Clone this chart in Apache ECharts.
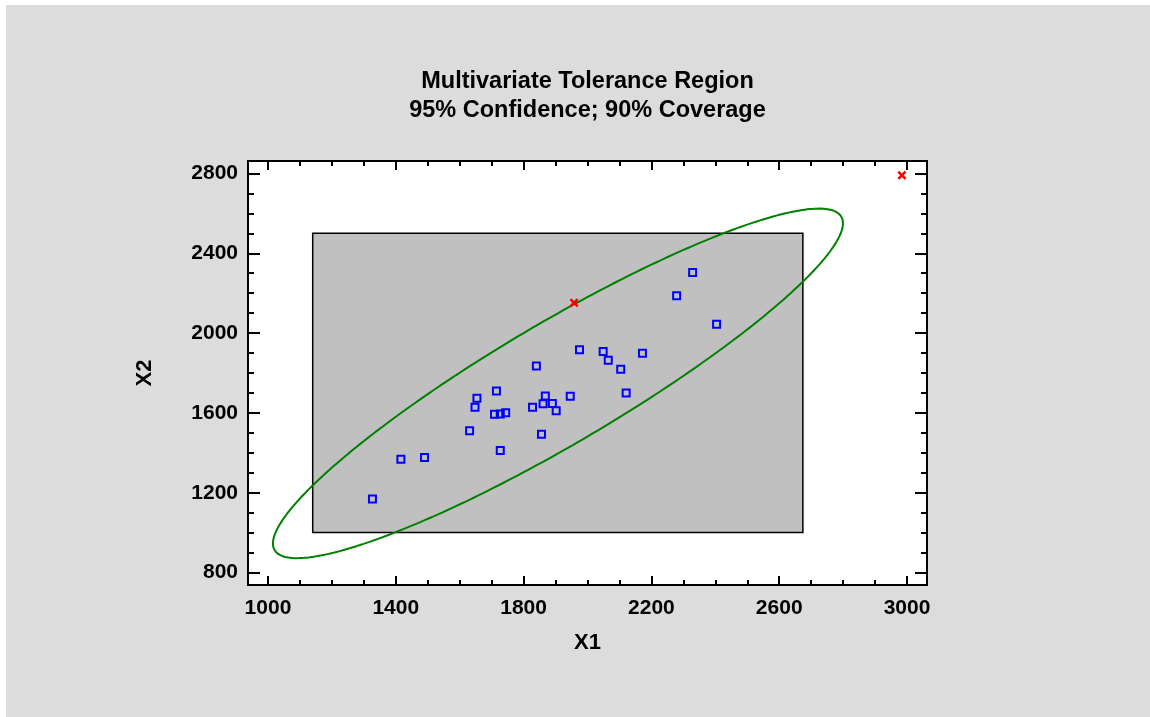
<!DOCTYPE html>
<html>
<head>
<meta charset="utf-8">
<script src="https://cdn.jsdelivr.net/npm/echarts@6/dist/echarts.min.js"></script>
<style>
  html, body { margin: 0; padding: 0; background: #ffffff; width: 1150px; height: 717px; overflow: hidden; }
  #chart { position: absolute; left: 6px; top: 5px; width: 1144px; height: 712px; background: #dcdcdc; }
</style>
</head>
<body>
<div id="chart"></div>
<script>
// Observations (X1, X2)
const x1Values = [1327, 1416, 1490, 1631, 1648, 1654, 1709, 1715, 1727, 1744, 1727, 1828, 1840, 1856,
                  1861, 1868, 1890, 1902, 1946, 1975, 2049, 2065, 2104, 2121, 2172, 2279, 2329, 2404];
const x2Values = [1168, 1368, 1376, 1511, 1628, 1673, 1593, 1710, 1595, 1601, 1411, 1628, 1835, 1493,
                  1646, 1685, 1647, 1611, 1683, 1917, 1908, 1864, 1819, 1700, 1899, 2187, 2304, 2044];

// Observations flagged outside the tolerance ellipse
const outlierX1 = [1958, 2984];
const outlierX2 = [2152, 2791];

// Tick labels
const xTickLabels = [1000, 1400, 1800, 2200, 2600, 3000];
const yTickLabels = [800, 1200, 1600, 2000, 2400, 2800];

// Rectangular (marginal) tolerance region
const boxX1 = [1140, 2674];
const boxX2 = [1000, 2500];

// Joint tolerance ellipse: centre, half extents along each axis, correlation
const ellipseCenter = [1907.5, 1748];
const ellipseHalfExtent = [892, 876];
const ellipseCorr = 0.916;

const FONT = '"Liberation Sans", Arial, sans-serif';

function minorTicks(from, to, step) {
  const out = [];
  for (let v = from; v <= to; v += step) out.push(v);
  return out;
}
const xMinor = minorTicks(1000, 3000, 100);
const yMinor = minorTicks(800, 2800, 100);

// Ellipse outline in data space
const ellipsePts = [];
const s = Math.sqrt(1 - ellipseCorr * ellipseCorr);
for (let i = 0; i <= 360; i++) {
  const t = i * Math.PI / 180;
  ellipsePts.push([
    ellipseCenter[0] + ellipseHalfExtent[0] * Math.cos(t),
    ellipseCenter[1] + ellipseHalfExtent[1] * (ellipseCorr * Math.cos(t) + s * Math.sin(t))
  ]);
}

const points = x1Values.map((v, i) => [v, x2Values[i]]);
const outliers = outlierX1.map((v, i) => [v, outlierX2[i]]);

const XMIN = 937.5, XMAX = 3062.5, YMIN = 737.5, YMAX = 2862.5;
const labelStyle = { fontSize: 21, fontWeight: 'bold', color: '#000', fontFamily: FONT, formatter: v => String(v) };
const tickLine = { color: '#000', width: 2 };

function xAxisDef(position, values, len, withLabel) {
  return {
    type: 'value', min: XMIN, max: XMAX, position: position,
    axisLine: { show: false }, splitLine: { show: false },
    axisTick: { show: true, inside: true, length: len, customValues: values, lineStyle: tickLine },
    axisLabel: withLabel ? Object.assign({ show: true, margin: 13, customValues: values }, labelStyle) : { show: false },
    name: withLabel ? 'X1' : '',
    nameLocation: 'middle', nameGap: 47,
    nameTextStyle: { fontSize: 22, fontWeight: 'bold', color: '#000', fontFamily: FONT }
  };
}
function yAxisDef(position, values, len, withLabel) {
  return {
    type: 'value', min: YMIN, max: YMAX, position: position,
    axisLine: { show: false }, splitLine: { show: false },
    axisTick: { show: true, inside: true, length: len, customValues: values, lineStyle: tickLine },
    axisLabel: withLabel ? Object.assign({ show: true, margin: 10, customValues: values }, labelStyle) : { show: false },
    name: withLabel ? 'X2' : '',
    nameLocation: 'middle', nameGap: 92,
    nameTextStyle: { fontSize: 22, fontWeight: 'bold', color: '#000', fontFamily: FONT }
  };
}

const chart = echarts.init(document.getElementById('chart'), null, { renderer: 'canvas' });
chart.setOption({
  animation: false,
  backgroundColor: '#dcdcdc',
  graphic: [{
    type: 'text', x: 581.5, y: 62, z: 10,
    style: {
      text: 'Multivariate Tolerance Region\n95% Confidence; 90% Coverage',
      fill: '#000', fontSize: 23.5, fontWeight: 'bold', fontFamily: FONT,
      lineHeight: 29, align: 'center', verticalAlign: 'top'
    }
  }],
  grid: {
    left: 242, right: 223, top: 156, bottom: 132,
    show: true, backgroundColor: '#ffffff', borderColor: '#000', borderWidth: 2
  },
  xAxis: [
    xAxisDef('bottom', xTickLabels, 9, true),
    xAxisDef('bottom', xMinor, 5, false),
    xAxisDef('top', xTickLabels, 9, false),
    xAxisDef('top', xMinor, 5, false)
  ],
  yAxis: [
    yAxisDef('left', yTickLabels, 12, true),
    yAxisDef('left', yMinor, 6, false),
    yAxisDef('right', yTickLabels, 12, false),
    yAxisDef('right', yMinor, 6, false)
  ],
  series: [
    {
      type: 'custom', xAxisIndex: 0, yAxisIndex: 0, z: 1,
      data: [[boxX1[0], boxX2[0], boxX1[1], boxX2[1]]],
      encode: { x: [0, 2], y: [1, 3] },
      renderItem: function (params, api) {
        const p0 = api.coord([api.value(0), api.value(1)]);
        const p1 = api.coord([api.value(2), api.value(3)]);
        return {
          type: 'rect',
          shape: { x: p0[0], y: p1[1], width: p1[0] - p0[0], height: p0[1] - p1[1] },
          style: { fill: '#c0c0c0', stroke: '#000', lineWidth: 1.5 }
        };
      }
    },
    {
      type: 'line', xAxisIndex: 0, yAxisIndex: 0, z: 3,
      data: ellipsePts, showSymbol: false, symbol: 'none', smooth: false,
      lineStyle: { color: '#008000', width: 2 }
    },
    {
      type: 'scatter', xAxisIndex: 0, yAxisIndex: 0, z: 4,
      data: points, symbol: 'rect', symbolSize: 7,
      itemStyle: { color: 'rgba(0,0,0,0)', borderColor: '#0000ff', borderWidth: 2, opacity: 1 }
    },
    {
      type: 'scatter', xAxisIndex: 0, yAxisIndex: 0, z: 5,
      data: outliers,
      symbol: 'path://M0,2L2,0L5,3L8,0L10,2L7,5L10,8L8,10L5,7L2,10L0,8L3,5Z',
      symbolSize: 9,
      itemStyle: { color: '#ff0000', opacity: 1 }
    }
  ]
});
</script>
</body>
</html>
